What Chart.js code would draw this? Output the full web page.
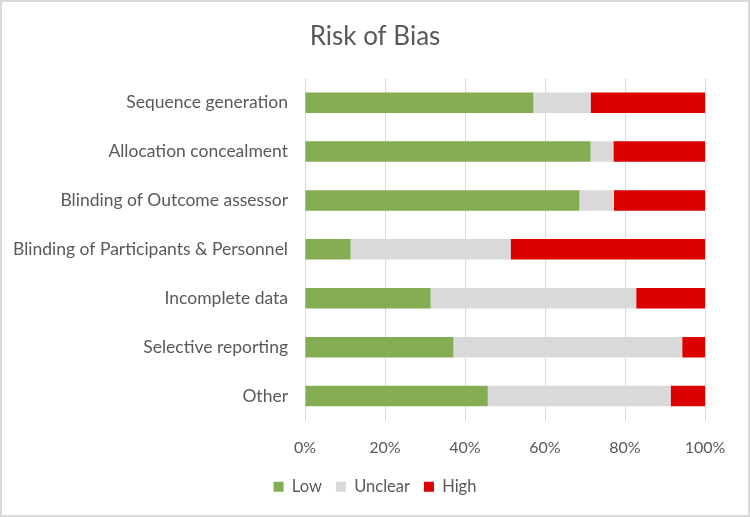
<!DOCTYPE html>
<html>
<head>
<meta charset="utf-8">
<script src="https://cdn.jsdelivr.net/npm/chart.js@4"></script>
<style>
  html, body { margin: 0; padding: 0; background: #fff; }
  #wrap { position: relative; width: 750px; height: 517px; }
  #frame { position: absolute; left: 0; top: 0; width: 746px; height: 513px;
           border: 2px solid #d9d9d9; pointer-events: none; }
</style>
</head>
<body>
<div id="wrap">
  <canvas id="biasChart" width="750" height="517"></canvas>
  <div id="frame"></div>
</div>
<script>
// Domains, top to bottom
const domains = [
  "Sequence generation",
  "Allocation concealment",
  "Blinding of Outcome assessor",
  "Blinding of Participants & Personnel",
  "Incomplete data",
  "Selective reporting",
  "Other",
];

// Share of studies per judgement (%)
const low = [57.1, 71.4, 68.6, 11.4, 31.4, 37.1, 45.7];
const unclear = [14.3, 5.7, 8.6, 40.0, 51.4, 57.2, 45.7];
const high = [28.6, 22.9, 22.8, 48.6, 17.2, 5.7, 8.6];

const xTicks = [0, 20, 40, 60, 80, 100];

const textColor = "#595959";
const fontFamily = "Lato, 'Open Sans', sans-serif";

const canvasElement = document.querySelector("#biasChart");

const config = {
  type: "bar",
  data: {
    labels: domains,
    datasets: [
      { label: "Low", data: low, backgroundColor: "#84ac52" },
      { label: "Unclear", data: unclear, backgroundColor: "#d9d9d9" },
      { label: "High", data: high, backgroundColor: "#dc0000" },
    ],
  },
  options: {
    indexAxis: "y",
    responsive: false,
    animation: false,
    categoryPercentage: 1,
    barPercentage: 0.42,
    layout: { padding: { left: 0, right: 0, top: 0, bottom: 12 } },
    plugins: {
      title: {
        display: true,
        text: "Risk of Bias",
        color: textColor,
        font: { family: fontFamily, size: 26, weight: "normal" },
        padding: { top: 21, bottom: 26 },
      },
      legend: {
        position: "bottom",
        labels: {
          color: textColor,
          boxWidth: 10,
          boxHeight: 10,
          padding: 14,
          font: { family: fontFamily, size: 16.5 },
        },
      },
      tooltip: { enabled: false },
    },
    scales: {
      x: {
        stacked: true,
        min: 0,
        max: 100,
        afterBuildTicks: (scale) => {
          scale.ticks = xTicks.map((v) => ({ value: v }));
        },
        afterFit: (scale) => {
          scale.height = 44;
        },
        ticks: {
          color: textColor,
          padding: 18,
          font: { family: fontFamily, size: 16 },
          callback: (v) => v + "%",
        },
        grid: { color: "#d9d9d9", lineWidth: 1, drawTicks: false },
        border: { display: false },
      },
      y: {
        stacked: true,
        afterFit: (scale) => {
          scale.width = 305;
        },
        ticks: {
          color: textColor,
          padding: 9,
          font: { family: fontFamily, size: 17.5 },
        },
        grid: { display: false },
        border: { display: false },
      },
      // empty right-hand margin so title and legend centre on the full width
      yRight: {
        position: "right",
        afterFit: (scale) => {
          scale.width = 45;
        },
        ticks: { display: false },
        grid: { display: false },
        border: { display: false },
      },
    },
  },
};

const biasChart = new Chart(canvasElement, config);
</script>
</body>
</html>
